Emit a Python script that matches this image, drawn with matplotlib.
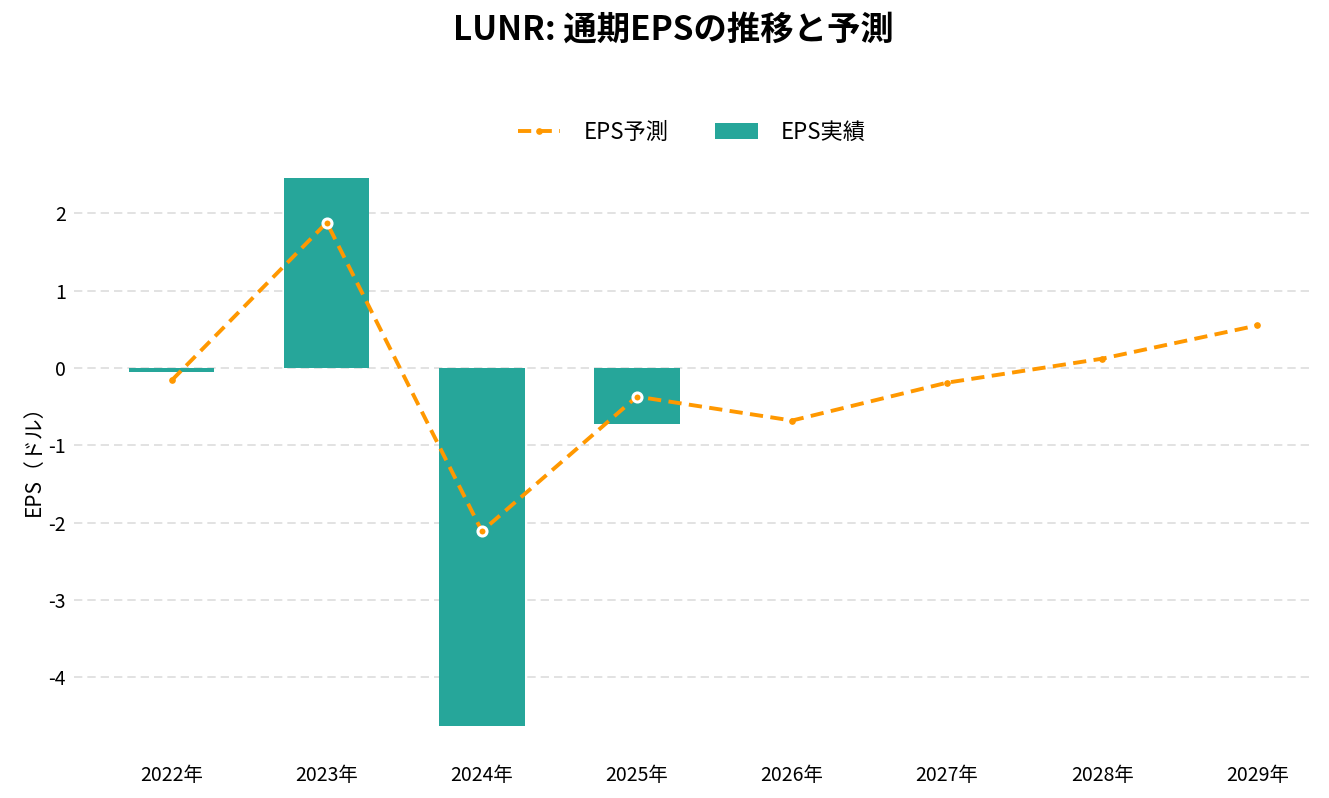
import matplotlib

matplotlib.use("Agg")
import matplotlib.pyplot as plt
import numpy as np

plt.rcParams["font.family"] = ["Noto Sans CJK JP", "DejaVu Sans"]
plt.rcParams["axes.unicode_minus"] = False

YEARS = ["2022年", "2023年", "2024年", "2025年", "2026年", "2027年", "2028年", "2029年"]
EPS_ACTUAL = [-0.05, 2.45, -4.63, -0.72]
EPS_FORECAST = [-0.16, 1.88, -2.11, -0.37, -0.68, -0.19, 0.12, 0.55]
RING_IDX = [1, 2, 3]  # forecast points highlighted with a white ring

TEAL = "#26A69A"
ORANGE = "#FF9800"

fig = plt.figure(figsize=(13.29, 7.98), dpi=100)
ax = fig.add_axes([0.0557, 0.0727, 0.9323, 0.7143])

x = np.arange(len(YEARS))
ax.bar(x[:len(EPS_ACTUAL)], EPS_ACTUAL, width=0.55, color=TEAL, label="EPS実績", zorder=2)
ax.plot(x, EPS_FORECAST, color=ORANGE, linewidth=2.8, linestyle=(0, (3.4, 1.9)),
        marker="o", markersize=3.8, label="EPS予測", zorder=3)
ax.plot(x[RING_IDX], np.array(EPS_FORECAST)[RING_IDX], linestyle="none", marker="o",
        markersize=6.5, markerfacecolor=ORANGE, markeredgecolor="white", markeredgewidth=2.2, zorder=4)

ax.set_xlim(-0.63, 7.36)
ax.set_ylim(-4.81, 2.56)
ax.set_xticks(x)
ax.set_xticklabels(YEARS, fontsize=14)
ax.set_yticks(range(-4, 3))
ax.tick_params(axis="y", labelsize=14, length=0, pad=6)
ax.tick_params(axis="x", length=0, pad=18)
ax.yaxis.grid(True, color="#dddddd", linestyle=(0, (5, 3)), linewidth=1.2, zorder=0)
ax.set_axisbelow(True)
for s in ax.spines.values():
    s.set_visible(False)
ax.set_ylabel("EPS（ドル）", fontsize=15, labelpad=2)

fig.text(673 / 1329, 1 - 30 / 798, "LUNR: 通期EPSの推移と予測", fontsize=24,
         fontweight="bold", ha="center", va="center")
handles, labels = ax.get_legend_handles_labels()
order = [labels.index("EPS予測"), labels.index("EPS実績")]
fig.legend([handles[i] for i in order], [labels[i] for i in order], loc="center",
           bbox_to_anchor=(692 / 1329, 1 - 132 / 798), ncol=2, frameon=False,
           fontsize=16, handlelength=1.9, handletextpad=1.05, columnspacing=2.1)

fig.savefig("out.png", dpi=100)
